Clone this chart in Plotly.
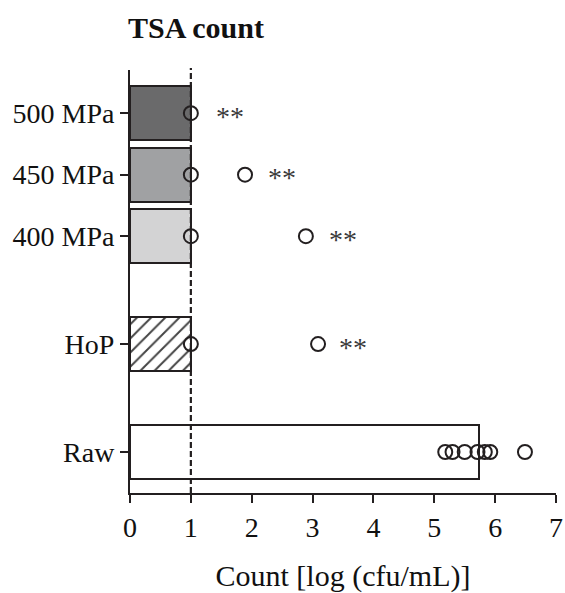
import plotly.graph_objects as go

categories = ["Raw", "HoP", "400 MPa", "450 MPa", "500 MPa"]
bar_values = [5.74, 1.0, 1.0, 1.0, 1.0]
point_values = [
    [5.18, 5.30, 5.50, 5.71, 5.83, 5.92, 6.49],
    [1.0, 3.09],
    [1.0, 2.89],
    [1.0, 1.89],
    [1.0],
]
sig_labels = ["", "**", "**", "**", "**"]
sig_x = [None, 3.67, 3.50, 2.49, 1.64]
x_ticks = [0, 1, 2, 3, 4, 5, 6, 7]
detection_limit = 1.0

# layout positions of categories along the y axis
ypos = [0.0, 1.0, 2.0, 2.57, 3.14]

fills = ["white", "white", "#d3d3d4", "#a0a1a3", "#6a6a6b"]
patterns = ["", "/", "", "", ""]
dark = "#231f20"
font = "Liberation Serif, Times New Roman, serif"

fig = go.Figure()
fig.add_trace(go.Bar(
    x=bar_values, y=ypos, orientation="h", width=0.5,
    marker=dict(color=fills, line=dict(color=dark, width=2),
                pattern=dict(shape=patterns, fgcolor=dark, fgopacity=1, size=10,
                             solidity=0.2, bgcolor="white")),
    showlegend=False, hoverinfo="skip",
))

px, py = [], []
for yp, vals in zip(ypos, point_values):
    for v in vals:
        px.append(v)
        py.append(yp)
fig.add_trace(go.Scatter(
    x=px, y=py, mode="markers",
    marker=dict(symbol="circle-open", size=14, color=dark, line=dict(width=2)),
    showlegend=False, cliponaxis=False, hoverinfo="skip",
))

fig.add_shape(type="line", x0=detection_limit, x1=detection_limit, xref="x",
              y0=0, y1=1.005, yref="paper",
              line=dict(color=dark, width=2.2, dash="6px,3px"))

for yp, lab, sx in zip(ypos, sig_labels, sig_x):
    if lab:
        fig.add_annotation(x=sx, y=yp, text=lab, showarrow=False,
                           font=dict(family=font, size=28, color="#3a3a3a"),
                           yshift=-3)

fig.add_annotation(x=0, xref="paper", y=1.10, yref="paper", text="<b>TSA count</b>",
                   showarrow=False, xanchor="left", yanchor="middle", xshift=-4,
                   font=dict(family=font, size=30, color="#111"))

fig.update_layout(
    width=565, height=593,
    margin=dict(l=130, r=9, t=70, b=100, autoexpand=False),
    plot_bgcolor="white", paper_bgcolor="white",
    font=dict(family=font, size=28, color="#111"),
    bargap=0,
)
fig.update_xaxes(range=[0, 7], tickvals=x_ticks, ticks="outside", ticklen=8, tickwidth=2,
                 tickcolor=dark, showline=True, linecolor=dark, linewidth=2,
                 showgrid=False, zeroline=False, mirror=False, automargin=False,
                 title=dict(text="Count [log (cfu/mL)]", standoff=24,
                            font=dict(size=30)),
                 tickfont=dict(size=28))
fig.update_yaxes(range=[-0.38, 3.54], tickvals=ypos, ticktext=categories,
                 ticks="outside", ticklen=8, tickwidth=2, tickcolor=dark,
                 showline=True, linecolor=dark, linewidth=2, automargin=False,
                 showgrid=False, zeroline=False, tickfont=dict(size=28))

fig.write_html("out.html", config={"displayModeBar": False},
               post_script="document.body.style.margin='0';document.body.style.overflow='hidden';")
